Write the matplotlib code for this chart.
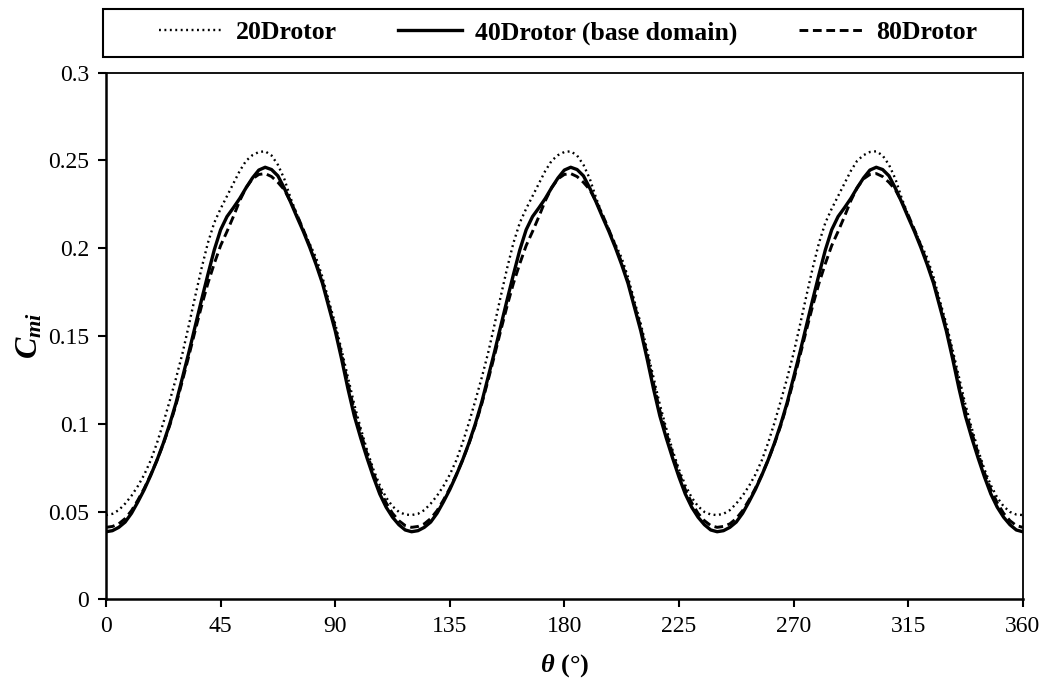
import numpy as np
import matplotlib
matplotlib.use('Agg')
import matplotlib.pyplot as plt
from matplotlib.patches import Rectangle

plt.rcParams.update({
    'font.family': 'Liberation Serif',
    'mathtext.fontset': 'custom',
    'mathtext.it': 'Liberation Serif:italic:bold',
    'mathtext.rm': 'Liberation Serif:bold',
    'mathtext.bf': 'Liberation Serif:bold',
})

# azimuth angle (deg), sampled every 2.5 deg
theta = np.arange(0, 362.5, 2.5)

# instantaneous moment coefficient (three identical cycles)
cm_20d = [
    0.0480, 0.0487, 0.0508, 0.0545, 0.0590, 0.0645, 0.0710, 0.0790, 0.0890, 0.1005,
    0.1130, 0.1260, 0.1400, 0.1560, 0.1725, 0.1885, 0.2030, 0.2145, 0.2225, 0.2297,
    0.2370, 0.2440, 0.2498, 0.2530, 0.2548, 0.2552, 0.2528, 0.2475, 0.2395, 0.2285,
    0.2190, 0.2104, 0.2025, 0.1945, 0.1835, 0.1700, 0.1570, 0.1420, 0.1265, 0.1110,
    0.0975, 0.0850, 0.0740, 0.0650, 0.0580, 0.0530, 0.0498, 0.0483,
    0.0480, 0.0487, 0.0508, 0.0545, 0.0590, 0.0645, 0.0710, 0.0790, 0.0890, 0.1005,
    0.1130, 0.1260, 0.1400, 0.1560, 0.1725, 0.1885, 0.2030, 0.2145, 0.2225, 0.2297,
    0.2370, 0.2440, 0.2498, 0.2530, 0.2548, 0.2552, 0.2528, 0.2475, 0.2395, 0.2285,
    0.2190, 0.2104, 0.2025, 0.1945, 0.1835, 0.1700, 0.1570, 0.1420, 0.1265, 0.1110,
    0.0975, 0.0850, 0.0740, 0.0650, 0.0580, 0.0530, 0.0498, 0.0483,
    0.0480, 0.0487, 0.0508, 0.0545, 0.0590, 0.0645, 0.0710, 0.0790, 0.0890, 0.1005,
    0.1130, 0.1260, 0.1400, 0.1560, 0.1725, 0.1885, 0.2030, 0.2145, 0.2225, 0.2297,
    0.2370, 0.2440, 0.2498, 0.2530, 0.2548, 0.2552, 0.2528, 0.2475, 0.2395, 0.2285,
    0.2190, 0.2104, 0.2025, 0.1945, 0.1835, 0.1700, 0.1570, 0.1420, 0.1265, 0.1110,
    0.0975, 0.0850, 0.0740, 0.0650, 0.0580, 0.0530, 0.0498, 0.0483,
    0.0480]

cm_40d = [
    0.0385, 0.0391, 0.0410, 0.0440, 0.0490, 0.0555, 0.0625, 0.0705, 0.0792, 0.0889,
    0.0998, 0.1120, 0.1262, 0.1405, 0.1555, 0.1705, 0.1850, 0.1990, 0.2105, 0.2180,
    0.2230, 0.2283, 0.2344, 0.2400, 0.2445, 0.2461, 0.2448, 0.2412, 0.2342, 0.2262,
    0.2177, 0.2095, 0.2005, 0.1907, 0.1800, 0.1665, 0.1530, 0.1370, 0.1200, 0.1045,
    0.0920, 0.0805, 0.0697, 0.0600, 0.0525, 0.0468, 0.0425, 0.0395,
    0.0385, 0.0391, 0.0410, 0.0440, 0.0490, 0.0555, 0.0625, 0.0705, 0.0792, 0.0889,
    0.0998, 0.1120, 0.1262, 0.1405, 0.1555, 0.1705, 0.1850, 0.1990, 0.2105, 0.2180,
    0.2230, 0.2283, 0.2344, 0.2400, 0.2445, 0.2461, 0.2448, 0.2412, 0.2342, 0.2262,
    0.2177, 0.2095, 0.2005, 0.1907, 0.1800, 0.1665, 0.1530, 0.1370, 0.1200, 0.1045,
    0.0920, 0.0805, 0.0697, 0.0600, 0.0525, 0.0468, 0.0425, 0.0395,
    0.0385, 0.0391, 0.0410, 0.0440, 0.0490, 0.0555, 0.0625, 0.0705, 0.0792, 0.0889,
    0.0998, 0.1120, 0.1262, 0.1405, 0.1555, 0.1705, 0.1850, 0.1990, 0.2105, 0.2180,
    0.2230, 0.2283, 0.2344, 0.2400, 0.2445, 0.2461, 0.2448, 0.2412, 0.2342, 0.2262,
    0.2177, 0.2095, 0.2005, 0.1907, 0.1800, 0.1665, 0.1530, 0.1370, 0.1200, 0.1045,
    0.0920, 0.0805, 0.0697, 0.0600, 0.0525, 0.0468, 0.0425, 0.0395,
    0.0385]

cm_80d = [
    0.0410, 0.0415, 0.0430, 0.0460, 0.0505, 0.0565, 0.0632, 0.0708, 0.0792, 0.0885,
    0.0990, 0.1110, 0.1245, 0.1385, 0.1530, 0.1670, 0.1800, 0.1912, 0.2015, 0.2095,
    0.2180, 0.2270, 0.2345, 0.2395, 0.2420, 0.2425, 0.2408, 0.2375, 0.2333, 0.2265,
    0.2190, 0.2105, 0.2015, 0.1917, 0.1810, 0.1680, 0.1548, 0.1395, 0.1230, 0.1075,
    0.0950, 0.0830, 0.0720, 0.0625, 0.0550, 0.0490, 0.0448, 0.0420,
    0.0410, 0.0415, 0.0430, 0.0460, 0.0505, 0.0565, 0.0632, 0.0708, 0.0792, 0.0885,
    0.0990, 0.1110, 0.1245, 0.1385, 0.1530, 0.1670, 0.1800, 0.1912, 0.2015, 0.2095,
    0.2180, 0.2270, 0.2345, 0.2395, 0.2420, 0.2425, 0.2408, 0.2375, 0.2333, 0.2265,
    0.2190, 0.2105, 0.2015, 0.1917, 0.1810, 0.1680, 0.1548, 0.1395, 0.1230, 0.1075,
    0.0950, 0.0830, 0.0720, 0.0625, 0.0550, 0.0490, 0.0448, 0.0420,
    0.0410, 0.0415, 0.0430, 0.0460, 0.0505, 0.0565, 0.0632, 0.0708, 0.0792, 0.0885,
    0.0990, 0.1110, 0.1245, 0.1385, 0.1530, 0.1670, 0.1800, 0.1912, 0.2015, 0.2095,
    0.2180, 0.2270, 0.2345, 0.2395, 0.2420, 0.2425, 0.2408, 0.2375, 0.2333, 0.2265,
    0.2190, 0.2105, 0.2015, 0.1917, 0.1810, 0.1680, 0.1548, 0.1395, 0.1230, 0.1075,
    0.0950, 0.0830, 0.0720, 0.0625, 0.0550, 0.0490, 0.0448, 0.0420,
    0.0410]

labels = ['20Drotor', '40Drotor (base domain)', '80Drotor']
xticks = [0, 45, 90, 135, 180, 225, 270, 315, 360]
yticks = [0, 0.05, 0.1, 0.15, 0.2, 0.25, 0.3]
yticklabels = ['0', '0.05', '0.1', '0.15', '0.2', '0.25', '0.3']

fig = plt.figure(figsize=(10.53, 6.84), dpi=100)
ax = fig.add_axes([0.1007, 0.1238, 0.8705, 0.770])

l1, = ax.plot(theta, cm_20d, color='black', lw=1.7, linestyle=(0, (0.8, 1.5)),
              dash_capstyle='butt')
l2, = ax.plot(theta, cm_40d, color='black', lw=2.4, linestyle='-')
l3, = ax.plot(theta, cm_80d, color='black', lw=2.1, linestyle=(0, (3.0, 1.6)))

ax.set_xlim(0, 360)
ax.set_ylim(0, 0.3)
ax.set_xticks(xticks)
ax.set_xticklabels([str(t) for t in xticks])
ax.set_yticks(yticks)
ax.set_yticklabels(yticklabels)
ax.tick_params(labelsize=17, length=6, width=1.5, direction='out', pad=6)

for s in ['left', 'bottom']:
    ax.spines[s].set_linewidth(1.8)
for s in ['top', 'right']:
    ax.spines[s].set_linewidth(1.3)

ax.set_xlabel(r'$\theta$ (°)', fontsize=19, fontweight='bold', labelpad=11)
ax.set_ylabel(r'$C_{mi}$', fontsize=23, labelpad=3)

# legend box above the plot
fig.patches.append(Rectangle((0.0978, 0.9167), 0.8737, 0.0702, transform=fig.transFigure,
                             fill=False, edgecolor='black', linewidth=1.5))
fig.legend([l1, l2, l3], labels, loc='center', bbox_to_anchor=(0.5394, 0.9518), ncol=3,
           frameon=False, handlelength=2.5, handletextpad=0.5, columnspacing=2.4,
           borderpad=0.2, prop={'family': 'Liberation Serif', 'weight': 'bold', 'size': 18.5})

fig.savefig('out.png', dpi=100)
